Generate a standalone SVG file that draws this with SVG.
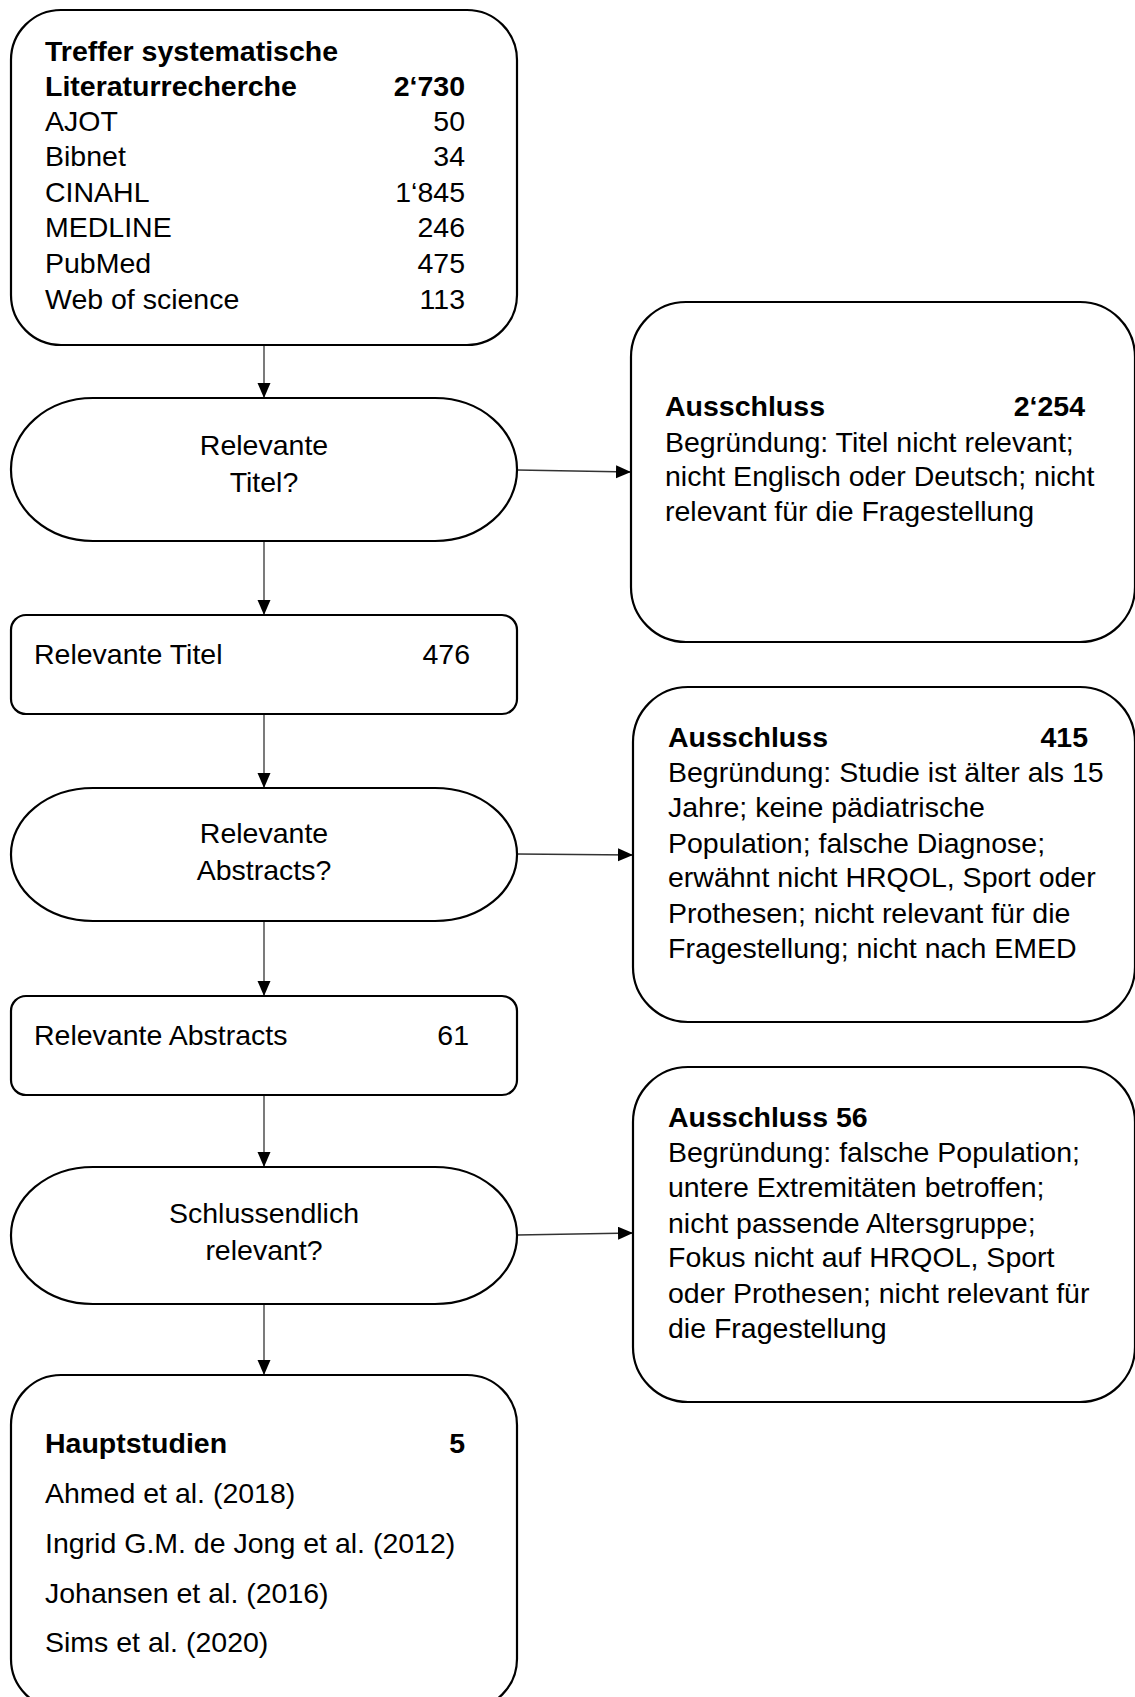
<svg xmlns="http://www.w3.org/2000/svg" width="1135" height="1697" viewBox="0 0 1135 1697">
<style>
.box{fill:#fff;stroke:#000;stroke-width:2.2}
.t{font-family:"Liberation Sans",Arial,sans-serif;font-size:28.5px;fill:#000}
.b{font-weight:bold}
.c{text-anchor:middle}
.r{text-anchor:end}
.con{stroke:#333;stroke-width:1.3;fill:none}
</style>
<defs>
<marker id="arr" markerUnits="userSpaceOnUse" markerWidth="16" markerHeight="14" refX="15" refY="6.5" orient="auto">
<path d="M0,0 L15,6.5 L0,13 Z" fill="#000"/>
</marker>
</defs>
<rect width="1135" height="1697" fill="#fff"/>
<g id="connectors">
<line class="con" x1="264" y1="345" x2="264" y2="398" marker-end="url(#arr)"/>
<line class="con" x1="264" y1="541" x2="264" y2="615" marker-end="url(#arr)"/>
<line class="con" x1="264" y1="714" x2="264" y2="788" marker-end="url(#arr)"/>
<line class="con" x1="264" y1="921" x2="264" y2="996" marker-end="url(#arr)"/>
<line class="con" x1="264" y1="1095" x2="264" y2="1167" marker-end="url(#arr)"/>
<line class="con" x1="264" y1="1304" x2="264" y2="1375" marker-end="url(#arr)"/>
<line class="con" x1="517" y1="470" x2="631" y2="472" marker-end="url(#arr)"/>
<line class="con" x1="517" y1="854" x2="633" y2="855" marker-end="url(#arr)"/>
<line class="con" x1="517" y1="1235" x2="633" y2="1233" marker-end="url(#arr)"/>
</g>
<g id="treffer">
<rect class="box" x="11" y="10" width="506" height="335" rx="50"/>
<text class="t b" x="45" y="61">Treffer systematische</text>
<text class="t b" x="45" y="96">Literaturrecherche</text>
<text class="t b r" x="465" y="96">2‘730</text>
<text class="t" x="45" y="131">AJOT</text><text class="t r" x="465" y="131">50</text>
<text class="t" x="45" y="166">Bibnet</text><text class="t r" x="465" y="166">34</text>
<text class="t" x="45" y="202">CINAHL</text><text class="t r" x="465" y="202">1‘845</text>
<text class="t" x="45" y="237">MEDLINE</text><text class="t r" x="465" y="237">246</text>
<text class="t" x="45" y="273">PubMed</text><text class="t r" x="465" y="273">475</text>
<text class="t" x="45" y="309">Web of science</text><text class="t r" x="465" y="309">113</text>
</g>
<g id="dec1">
<rect class="box" x="11" y="398" width="506" height="143" rx="82" ry="71"/>
<text class="t c" x="264" y="455">Relevante</text>
<text class="t c" x="264" y="492">Titel?</text>
</g>
<g id="titel">
<rect class="box" x="11" y="615" width="506" height="99" rx="15"/>
<text class="t" x="34" y="664">Relevante Titel</text>
<text class="t r" x="470" y="664">476</text>
</g>
<g id="dec2">
<rect class="box" x="11" y="788" width="506" height="133" rx="82" ry="66"/>
<text class="t c" x="264" y="843">Relevante</text>
<text class="t c" x="264" y="880">Abstracts?</text>
</g>
<g id="abstracts">
<rect class="box" x="11" y="996" width="506" height="99" rx="15"/>
<text class="t" x="34" y="1045">Relevante Abstracts</text>
<text class="t r" x="469" y="1045">61</text>
</g>
<g id="dec3">
<rect class="box" x="11" y="1167" width="506" height="137" rx="82" ry="68"/>
<text class="t c" x="264" y="1223">Schlussendlich</text>
<text class="t c" x="264" y="1260">relevant?</text>
</g>
<g id="haupt">
<rect class="box" x="11" y="1375" width="506" height="334" rx="50"/>
<text class="t b" x="45" y="1453">Hauptstudien</text>
<text class="t b r" x="465" y="1453">5</text>
<text class="t" x="45" y="1503">Ahmed et al. (2018)</text>
<text class="t" x="45" y="1553">Ingrid G.M. de Jong et al. (2012)</text>
<text class="t" x="45" y="1603">Johansen et al. (2016)</text>
<text class="t" x="45" y="1652">Sims et al. (2020)</text>
</g>
<g id="aus1">
<rect class="box" x="631" y="302" width="504" height="340" rx="55"/>
<text class="t b" x="665" y="416">Ausschluss</text>
<text class="t b r" x="1085" y="416">2‘254</text>
<text class="t" x="665" y="452">Begründung: Titel nicht relevant;</text>
<text class="t" x="665" y="486">nicht Englisch oder Deutsch; nicht</text>
<text class="t" x="665" y="521">relevant für die Fragestellung</text>
</g>
<g id="aus2">
<rect class="box" x="633" y="687" width="502" height="335" rx="55"/>
<text class="t b" x="668" y="747">Ausschluss</text>
<text class="t b r" x="1088" y="747">415</text>
<text class="t" x="668" y="782">Begründung: Studie ist älter als 15</text>
<text class="t" x="668" y="817">Jahre; keine pädiatrische</text>
<text class="t" x="668" y="853">Population; falsche Diagnose;</text>
<text class="t" x="668" y="887">erwähnt nicht HRQOL, Sport oder</text>
<text class="t" x="668" y="923">Prothesen; nicht relevant für die</text>
<text class="t" x="668" y="958">Fragestellung; nicht nach EMED</text>
</g>
<g id="aus3">
<rect class="box" x="633" y="1067" width="502" height="335" rx="55"/>
<text class="t b" x="668" y="1127">Ausschluss  56</text>
<text class="t" x="668" y="1162">Begründung: falsche Population;</text>
<text class="t" x="668" y="1197">untere Extremitäten betroffen;</text>
<text class="t" x="668" y="1233">nicht passende Altersgruppe;</text>
<text class="t" x="668" y="1267">Fokus nicht auf HRQOL, Sport</text>
<text class="t" x="668" y="1303">oder Prothesen; nicht relevant für</text>
<text class="t" x="668" y="1338">die Fragestellung</text>
</g>
</svg>
